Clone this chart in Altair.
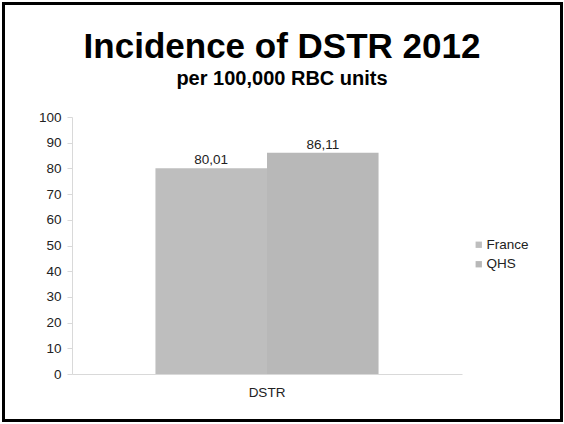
import altair as alt
import pandas as pd

categories = ["DSTR", "DSTR"]
series = ["France", "QHS"]
values = [80.01, 86.11]
y_ticks = [0, 10, 20, 30, 40, 50, 60, 70, 80, 90, 100]

df = pd.DataFrame({"cat": categories, "series": series, "value": values})

FONT = "Liberation Sans"
colors = ["#bebebe", "#b8b8b8"]
FS = 13.5

x_enc = alt.X("cat:N", title=None,
              scale=alt.Scale(paddingInner=0, paddingOuter=0.374),
              axis=alt.Axis(labelAngle=0, ticks=False, labelPadding=11,
                            domainColor="#d9d9d9", labelFontSize=FS,
                            labelColor="#222222", labelFont=FONT))
xoff_enc = alt.XOffset("series:N", scale=alt.Scale(paddingInner=0, paddingOuter=0))
y_enc = alt.Y("value:Q", title=None,
              scale=alt.Scale(domain=[0, 100], nice=False),
              axis=alt.Axis(values=y_ticks, grid=False, tickSize=5, tickColor="#d9d9d9",
                            domainColor="#d9d9d9", labelPadding=6, labelFontSize=FS,
                            labelColor="#222222", labelFont=FONT))

bars = alt.Chart(df).mark_bar().encode(
    x=x_enc,
    xOffset=xoff_enc,
    y=y_enc,
    color=alt.Color("series:N", scale=alt.Scale(domain=series, range=colors),
                    legend=alt.Legend(title=None, orient="none", legendX=400, legendY=121,
                                      symbolType="square", symbolSize=40,
                                      symbolStrokeWidth=0, labelFontSize=FS,
                                      labelFont=FONT, labelColor="#222222",
                                      rowPadding=4.5, labelOffset=1)),
)

labels = alt.Chart(df).mark_text(dy=-8, fontSize=FS, font=FONT, color="#222222").encode(
    x=x_enc,
    xOffset=xoff_enc,
    y=y_enc,
    text=alt.Text("value:Q", format=".2f"),
)

frame = alt.Chart(alt.Data(values=[{"a": 1}])).mark_rect(
    fill="transparent", stroke="black", strokeWidth=3
).encode(
    x=alt.value(-68.5), x2=alt.value(489.5), y=alt.value(-113.5), y2=alt.value(303.5)
)

chart = alt.layer(bars, labels, frame).properties(
    width=390,
    height=257,
    padding={"left": 72, "top": 117, "right": 102, "bottom": 50},
    autosize=alt.AutoSizeParams(type="none"),
    title=alt.TitleParams(
        text="Incidence of DSTR 2012",
        subtitle="per 100,000 RBC units",
        font=FONT, fontSize=35, fontWeight="bold", color="black",
        subtitleFont=FONT, subtitleFontSize=20, subtitleFontWeight="bold",
        subtitleColor="black", subtitlePadding=4, anchor="middle", offset=-87, dx=15,
    ),
).configure(
    locale={"number": {"decimal": ",", "thousands": ".", "grouping": [3], "currency": ["", " €"]}},
    view={"stroke": "transparent", "strokeWidth": 0},
)

chart.save("out.html", embed_options={"renderer": "svg", "actions": False})
